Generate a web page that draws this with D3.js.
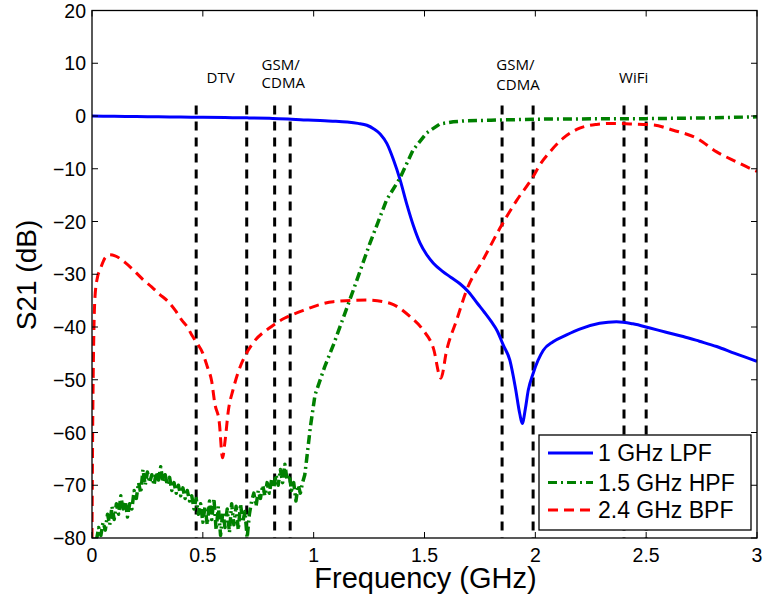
<!DOCTYPE html>
<html>
<head>
<meta charset="utf-8">
<script src="https://cdn.jsdelivr.net/npm/d3@7"></script>
<style>
  body { margin: 0; background: #fff; }
  svg { display: block; }
</style>
</head>
<body>
<svg id="chart" width="765" height="601"></svg>
<script>
// ---- data ----
const xTicks = [0, 0.5, 1, 1.5, 2, 2.5, 3];
const yTicks = [-80, -70, -60, -50, -40, -30, -20, -10, 0, 10, 20];

// 1 GHz LPF
const lpfFreq = [0, 0.1, 0.2, 0.3, 0.4, 0.5, 0.6, 0.7, 0.8, 0.9, 0.94, 1.0, 1.05, 1.1, 1.15, 1.2, 1.24, 1.27, 1.3, 1.33, 1.36, 1.39, 1.42, 1.45, 1.48, 1.51, 1.54, 1.58, 1.62, 1.66, 1.7, 1.74, 1.77, 1.8, 1.83, 1.855, 1.885, 1.91, 1.93, 1.941, 1.955, 1.968, 1.99, 2.036, 2.08, 2.141, 2.2, 2.29, 2.366, 2.44, 2.517, 2.59, 2.667, 2.74, 2.818, 2.9, 3.0];
const lpfDb = [0, -0.05, -0.1, -0.15, -0.2, -0.25, -0.3, -0.35, -0.45, -0.6, -0.7, -0.8, -0.9, -1.0, -1.15, -1.4, -1.75, -2.4, -3.4, -5.2, -8.3, -12.1, -16.7, -20.8, -24.1, -26.3, -27.9, -29.4, -30.6, -31.8, -33.4, -35.6, -37.2, -38.9, -40.9, -43.4, -46.3, -51.5, -56.5, -58.3, -55.5, -52.0, -48.8, -44.4, -42.8, -41.5, -40.4, -39.3, -39.0, -39.4, -40.2, -41.0, -41.8, -42.7, -43.7, -45.0, -46.5];

// 1.5 GHz HPF
const hpfFreq = [0.02, 0.03, 0.04, 0.05, 0.06, 0.07, 0.08, 0.09, 0.10, 0.11, 0.12, 0.13, 0.14, 0.15, 0.16, 0.17, 0.18, 0.19, 0.20,
  0.21, 0.22, 0.23, 0.24, 0.25, 0.26, 0.27, 0.28, 0.29, 0.30, 0.31, 0.32, 0.33, 0.34, 0.35, 0.36, 0.37, 0.38, 0.39, 0.40,
  0.41, 0.42, 0.43, 0.44, 0.45, 0.46, 0.47, 0.48, 0.49, 0.50, 0.51, 0.52, 0.53, 0.54, 0.55, 0.56, 0.57, 0.58, 0.59, 0.60,
  0.61, 0.62, 0.63, 0.64, 0.65, 0.66, 0.67, 0.68, 0.69, 0.70, 0.71, 0.72, 0.73, 0.74, 0.75, 0.76, 0.77, 0.78, 0.79, 0.80,
  0.81, 0.82, 0.83, 0.84, 0.85, 0.86, 0.87, 0.88, 0.89, 0.90, 0.91, 0.92, 0.93, 0.94, 0.95, 0.96,
  0.968, 0.985, 1.006, 1.05, 1.089, 1.179, 1.254, 1.329, 1.389, 1.449, 1.51, 1.57, 1.63, 1.69, 1.8, 2.0, 2.2, 2.5, 2.8, 3.0];
const hpfDb = [-80.5, -78.0, -79.5, -77.0, -78.5, -75.5, -77.5, -74.0, -76.5, -73.5, -75.5, -72.0, -74.5, -73.0, -76.0, -73.5, -74.5, -71.0, -72.5,
  -69.5, -71.5, -67.0, -70.0, -67.5, -69.5, -68.0, -70.0, -67.5, -69.0, -66.5, -69.5, -68.0, -70.0, -68.5, -71.0, -69.5, -71.5, -70.0, -72.0,
  -70.5, -72.5, -71.0, -73.0, -72.0, -74.5, -72.5, -75.5, -73.5, -77.0, -74.0, -77.5, -73.0, -76.5, -72.5, -78.5, -74.0, -79.5, -75.0, -78.0,
  -74.5, -79.0, -73.5, -77.5, -74.0, -78.5, -73.5, -77.0, -75.0, -80.0, -75.5, -73.0, -71.5, -74.0, -71.0, -72.5, -70.0, -72.0, -69.5, -71.5,
  -69.0, -70.5, -68.0, -70.0, -67.0, -69.5, -66.0, -69.0, -68.0, -71.0, -69.5, -73.0, -70.0, -71.5, -69.5, -68.0,
  -65.2, -59.0, -52.9, -47.5, -43.4, -33.0, -24.1, -15.9, -11.8, -6.4, -3.2, -1.5, -1.1, -0.9, -0.8, -0.6, -0.55, -0.5, -0.35, -0.15];

// 2.4 GHz BPF
const bpfFreq = [0, 0.003, 0.008, 0.0135, 0.025, 0.036, 0.059, 0.08, 0.104, 0.15, 0.194, 0.23, 0.269, 0.305, 0.344, 0.375, 0.405, 0.43, 0.45, 0.47, 0.5, 0.52, 0.54, 0.554, 0.574, 0.589, 0.6, 0.615, 0.637, 0.66, 0.69, 0.72, 0.81, 0.87, 0.938, 1.089, 1.239, 1.344, 1.434, 1.494, 1.54, 1.574, 1.6, 1.645, 1.69, 1.765, 1.84, 1.916, 1.99, 2.02, 2.066, 2.126, 2.2, 2.276, 2.35, 2.427, 2.532, 2.622, 2.727, 2.818, 2.908, 2.983, 3.0];
const bpfDb = [-80, -60, -42, -34.3, -30.5, -29.2, -26.9, -26.3, -26.5, -27.8, -29.5, -31.0, -32.4, -33.8, -35.2, -36.8, -38.7, -40.0, -41.5, -42.8, -45.0, -47.5, -50.3, -54.5, -58.0, -64.8, -61.7, -55.9, -51.8, -48.5, -45.5, -43.4, -39.9, -38.3, -37.1, -35.2, -34.9, -35.5, -38.0, -40.6, -44.0, -49.7, -44.4, -38.7, -33.0, -27.2, -21.3, -16.0, -11.5, -9.3, -6.8, -4.2, -2.3, -1.6, -1.4, -1.5, -1.7, -2.7, -4.2, -6.8, -8.7, -10.2, -10.5];

// band markers (GHz) and their labels
const markerFreq = [0.47, 0.698, 0.824, 0.894, 1.85, 1.99, 2.4, 2.5];
const bandLabels = [
  { f: 0.517, lines: ["DTV"], db: [6.3] },
  { f: 0.765, lines: ["GSM/", "CDMA"], db: [8.7, 5.3] },
  { f: 1.824, lines: ["GSM/", "CDMA"], db: [8.7, 5.0] },
  { f: 2.378, lines: ["WiFi"], db: [6.3] }
];

const seriesNames = ["1 GHz LPF", "1.5 GHz HPF", "2.4 GHz BPF"];

// ---- layout ----
const width = 765, height = 601;
const margin = { top: 10.5, right: 8, bottom: 63, left: 92 };
const innerWidth = width - margin.left - margin.right;
const innerHeight = height - margin.top - margin.bottom;
const fontFamily = '"Liberation Sans", Arial, Helvetica, sans-serif';

const svg = d3.select("#chart");

const xScale = d3.scaleLinear().domain([0, 3]).range([0, innerWidth]);
const yScale = d3.scaleLinear().domain([-80, 20]).range([innerHeight, 0]);

const g = svg.append("g").attr("transform", `translate(${margin.left},${margin.top})`);

g.append("clipPath").attr("id", "plotClip")
  .append("rect").attr("width", innerWidth).attr("height", innerHeight);

const plot = g.append("g").attr("clip-path", "url(#plotClip)");

// vertical band markers
plot.selectAll(".marker")
  .data(markerFreq)
  .enter().append("line")
  .attr("x1", d => xScale(d)).attr("x2", d => xScale(d))
  .attr("y1", yScale(2)).attr("y2", yScale(-80))
  .attr("stroke", "#000")
  .attr("stroke-width", 3)
  .attr("stroke-dasharray", "9,7");

const series = [
  { name: seriesNames[0], freq: lpfFreq, db: lpfDb, color: "#0000ff", dash: null, w: 3, curve: d3.curveMonotoneX },
  { name: seriesNames[1], freq: hpfFreq, db: hpfDb, color: "#008000", dash: "9,4,2,4", w: 3.5, curve: d3.curveLinear },
  { name: seriesNames[2], freq: bpfFreq, db: bpfDb, color: "#ff0000", dash: "10,6", w: 3, curve: d3.curveMonotoneX }
];

series.forEach(s => {
  const pts = s.freq.map((f, i) => [f, s.db[i]]);
  const line = d3.line()
    .x(d => xScale(d[0]))
    .y(d => yScale(d[1]))
    .curve(s.curve);
  plot.append("path")
    .datum(pts)
    .attr("d", line)
    .attr("fill", "none")
    .attr("stroke", s.color)
    .attr("stroke-width", s.w)
    .attr("stroke-linejoin", "round")
    .attr("stroke-dasharray", s.dash);
});

// band labels
bandLabels.forEach(b => {
  b.lines.forEach((t, i) => {
    g.append("text")
      .attr("x", xScale(b.f))
      .attr("y", yScale(b.db[i]))
      .attr("font-family", '"Open Sans", sans-serif')
      .attr("font-size", 15)
      .attr("fill", "#000")
      .text(t);
  });
});

// axes frame with inward ticks on all sides
const tickLen = 6;
const frame = g.append("g");
frame.append("rect")
  .attr("width", innerWidth).attr("height", innerHeight)
  .attr("fill", "none").attr("stroke", "#000").attr("stroke-width", 1.3);

frame.selectAll(".xt").data(xTicks).enter().append("path")
  .attr("d", d => `M${xScale(d)},${innerHeight}v${-tickLen}M${xScale(d)},0v${tickLen}`)
  .attr("stroke", "#000").attr("stroke-width", 1);
frame.selectAll(".yt").data(yTicks).enter().append("path")
  .attr("d", d => `M0,${yScale(d)}h${tickLen}M${innerWidth},${yScale(d)}h${-tickLen}`)
  .attr("stroke", "#000").attr("stroke-width", 1);

const fmtY = d3.format("d");
frame.selectAll(".xl").data(xTicks).enter().append("text")
  .attr("x", d => xScale(d))
  .attr("y", innerHeight + 24)
  .attr("text-anchor", "middle")
  .attr("font-family", fontFamily)
  .attr("font-size", 19.5)
  .text(d => d);
frame.selectAll(".yl").data(yTicks).enter().append("text")
  .attr("x", -6)
  .attr("y", d => yScale(d))
  .attr("dy", "0.36em")
  .attr("text-anchor", "end")
  .attr("font-family", fontFamily)
  .attr("font-size", 19.5)
  .text(d => fmtY(d));

// axis titles
svg.append("text")
  .attr("x", margin.left + innerWidth / 2 + 1)
  .attr("y", 588)
  .attr("text-anchor", "middle")
  .attr("font-family", fontFamily)
  .attr("font-size", 29)
  .text("Frequency (GHz)");

svg.append("text")
  .attr("transform", `translate(36,${275}) rotate(-90)`)
  .attr("text-anchor", "middle")
  .attr("font-family", fontFamily)
  .attr("font-size", 28)
  .text("S21 (dB)");

// legend
const legend = svg.append("g").attr("transform", "translate(539,435)");
legend.append("rect")
  .attr("width", 212).attr("height", 95)
  .attr("fill", "#fff").attr("stroke", "#000").attr("stroke-width", 1.3);

const rowY = [18, 47.5, 75];
series.forEach((s, i) => {
  legend.append("line")
    .attr("x1", 9).attr("x2", 54)
    .attr("y1", rowY[i]).attr("y2", rowY[i])
    .attr("stroke", s.color)
    .attr("stroke-width", 3)
    .attr("stroke-dasharray", s.dash);
  legend.append("text")
    .attr("x", 59)
    .attr("y", rowY[i])
    .attr("dy", "0.36em")
    .attr("font-family", fontFamily)
    .attr("font-size", 23)
    .text(s.name);
});
</script>
</body>
</html>
